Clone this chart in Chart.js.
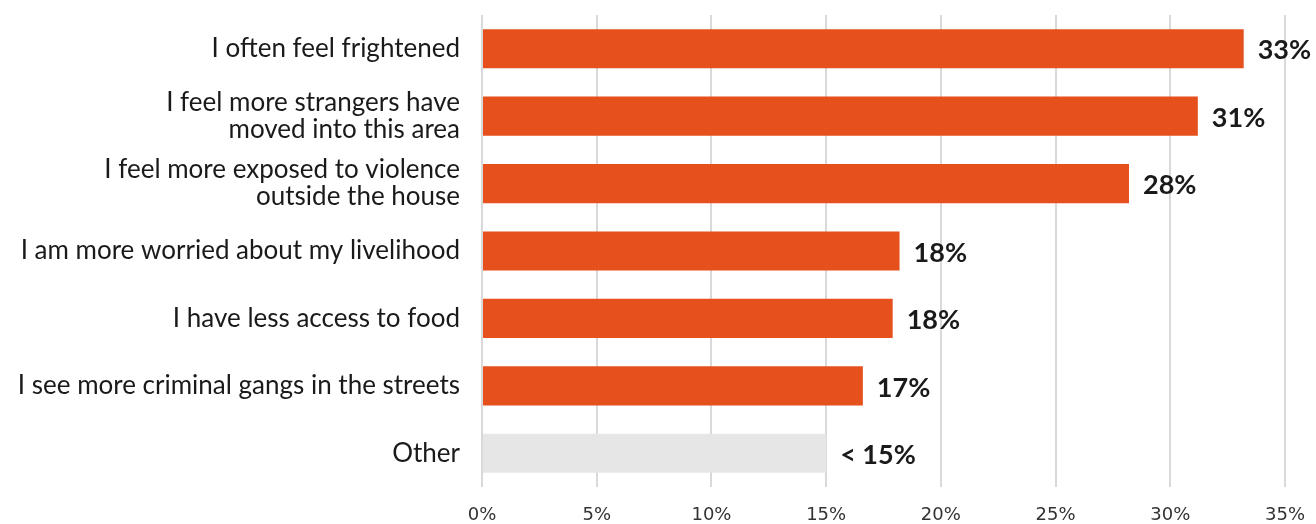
<!DOCTYPE html>
<html>
<head>
<meta charset="utf-8">
<script src="https://cdn.jsdelivr.net/npm/chart.js@4"></script>
<style>
  html, body { margin: 0; padding: 0; background: #fff; }
  #wrap { width: 1316px; height: 524px; }
</style>
</head>
<body>
<div id="wrap"><canvas id="myChart" width="1316" height="524"></canvas></div>
<script>
// answers, top to bottom
var categories = [
    "I often feel frightened",
    ["I feel more strangers have", "moved into this area"],
    ["I feel more exposed to violence", "outside the house"],
    "I am more worried about my livelihood",
    "I have less access to food",
    "I see more criminal gangs in the streets",
    "Other"
];
var shares = [33.2, 31.2, 28.2, 18.2, 17.9, 16.6, 15];
var shareLabels = ["33%", "31%", "28%", "18%", "18%", "17%", "< 15%"];
var xTicks = [0, 5, 10, 15, 20, 25, 30, 35];

var barColors = [];
for (var i = 0; i < categories.length; i++) {
    barColors[i] = categories[i] === "Other" ? "#e6e6e6" : "#e5501d";
}

// value text at the end of each bar
var endLabels = {
    id: "endLabels",
    afterDatasetsDraw: function (chart) {
        var ctx = chart.ctx;
        var meta = chart.getDatasetMeta(0);
        ctx.save();
        ctx.font = "bold 27px Lato";
        ctx.fillStyle = "#1a1a1a";
        ctx.textAlign = "left";
        ctx.textBaseline = "middle";
        meta.data.forEach(function (bar, i) {
            ctx.fillText(shareLabels[i], bar.x + 14, bar.y + 2);
        });
        ctx.restore();
    }
};

var data = {
    labels: categories,
    datasets: [{
        data: shares,
        backgroundColor: barColors,
        borderWidth: 0,
        barPercentage: 0.58,
        categoryPercentage: 1
    }]
};

var config = {
    type: "bar",
    data: data,
    options: {
        indexAxis: "y",
        responsive: false,
        animation: false,
        layout: { padding: { top: 15, right: 31, left: 0, bottom: 0 } },
        plugins: {
            legend: false,
            tooltip: { enabled: false }
        },
        scales: {
            x: {
                min: 0,
                max: 35,
                afterBuildTicks: function (axis) {
                    axis.ticks = xTicks.map(function (v) { return { value: v }; });
                },
                afterFit: function (axis) {
                    axis.height = 37;
                    axis.paddingLeft = 0;
                    axis.paddingRight = 0;
                },
                grid: { color: "#d9d9d9", lineWidth: 2, drawTicks: false },
                border: { display: false },
                ticks: {
                    padding: 18,
                    color: "#333",
                    font: { family: "DejaVu Sans", size: 18 },
                    callback: function (v) { return v + "%"; }
                }
            },
            y: {
                afterFit: function (axis) {
                    axis.width = 482;
                    axis.paddingTop = 0;
                    axis.paddingBottom = 0;
                },
                grid: { display: false },
                border: { display: false },
                ticks: {
                    padding: 14,
                    color: "#1a1a1a",
                    font: { family: "Lato", size: 26, lineHeight: 1.04 }
                }
            }
        }
    },
    plugins: [endLabels]
};

var myChart = new Chart(document.getElementById("myChart"), config);
</script>
</body>
</html>
